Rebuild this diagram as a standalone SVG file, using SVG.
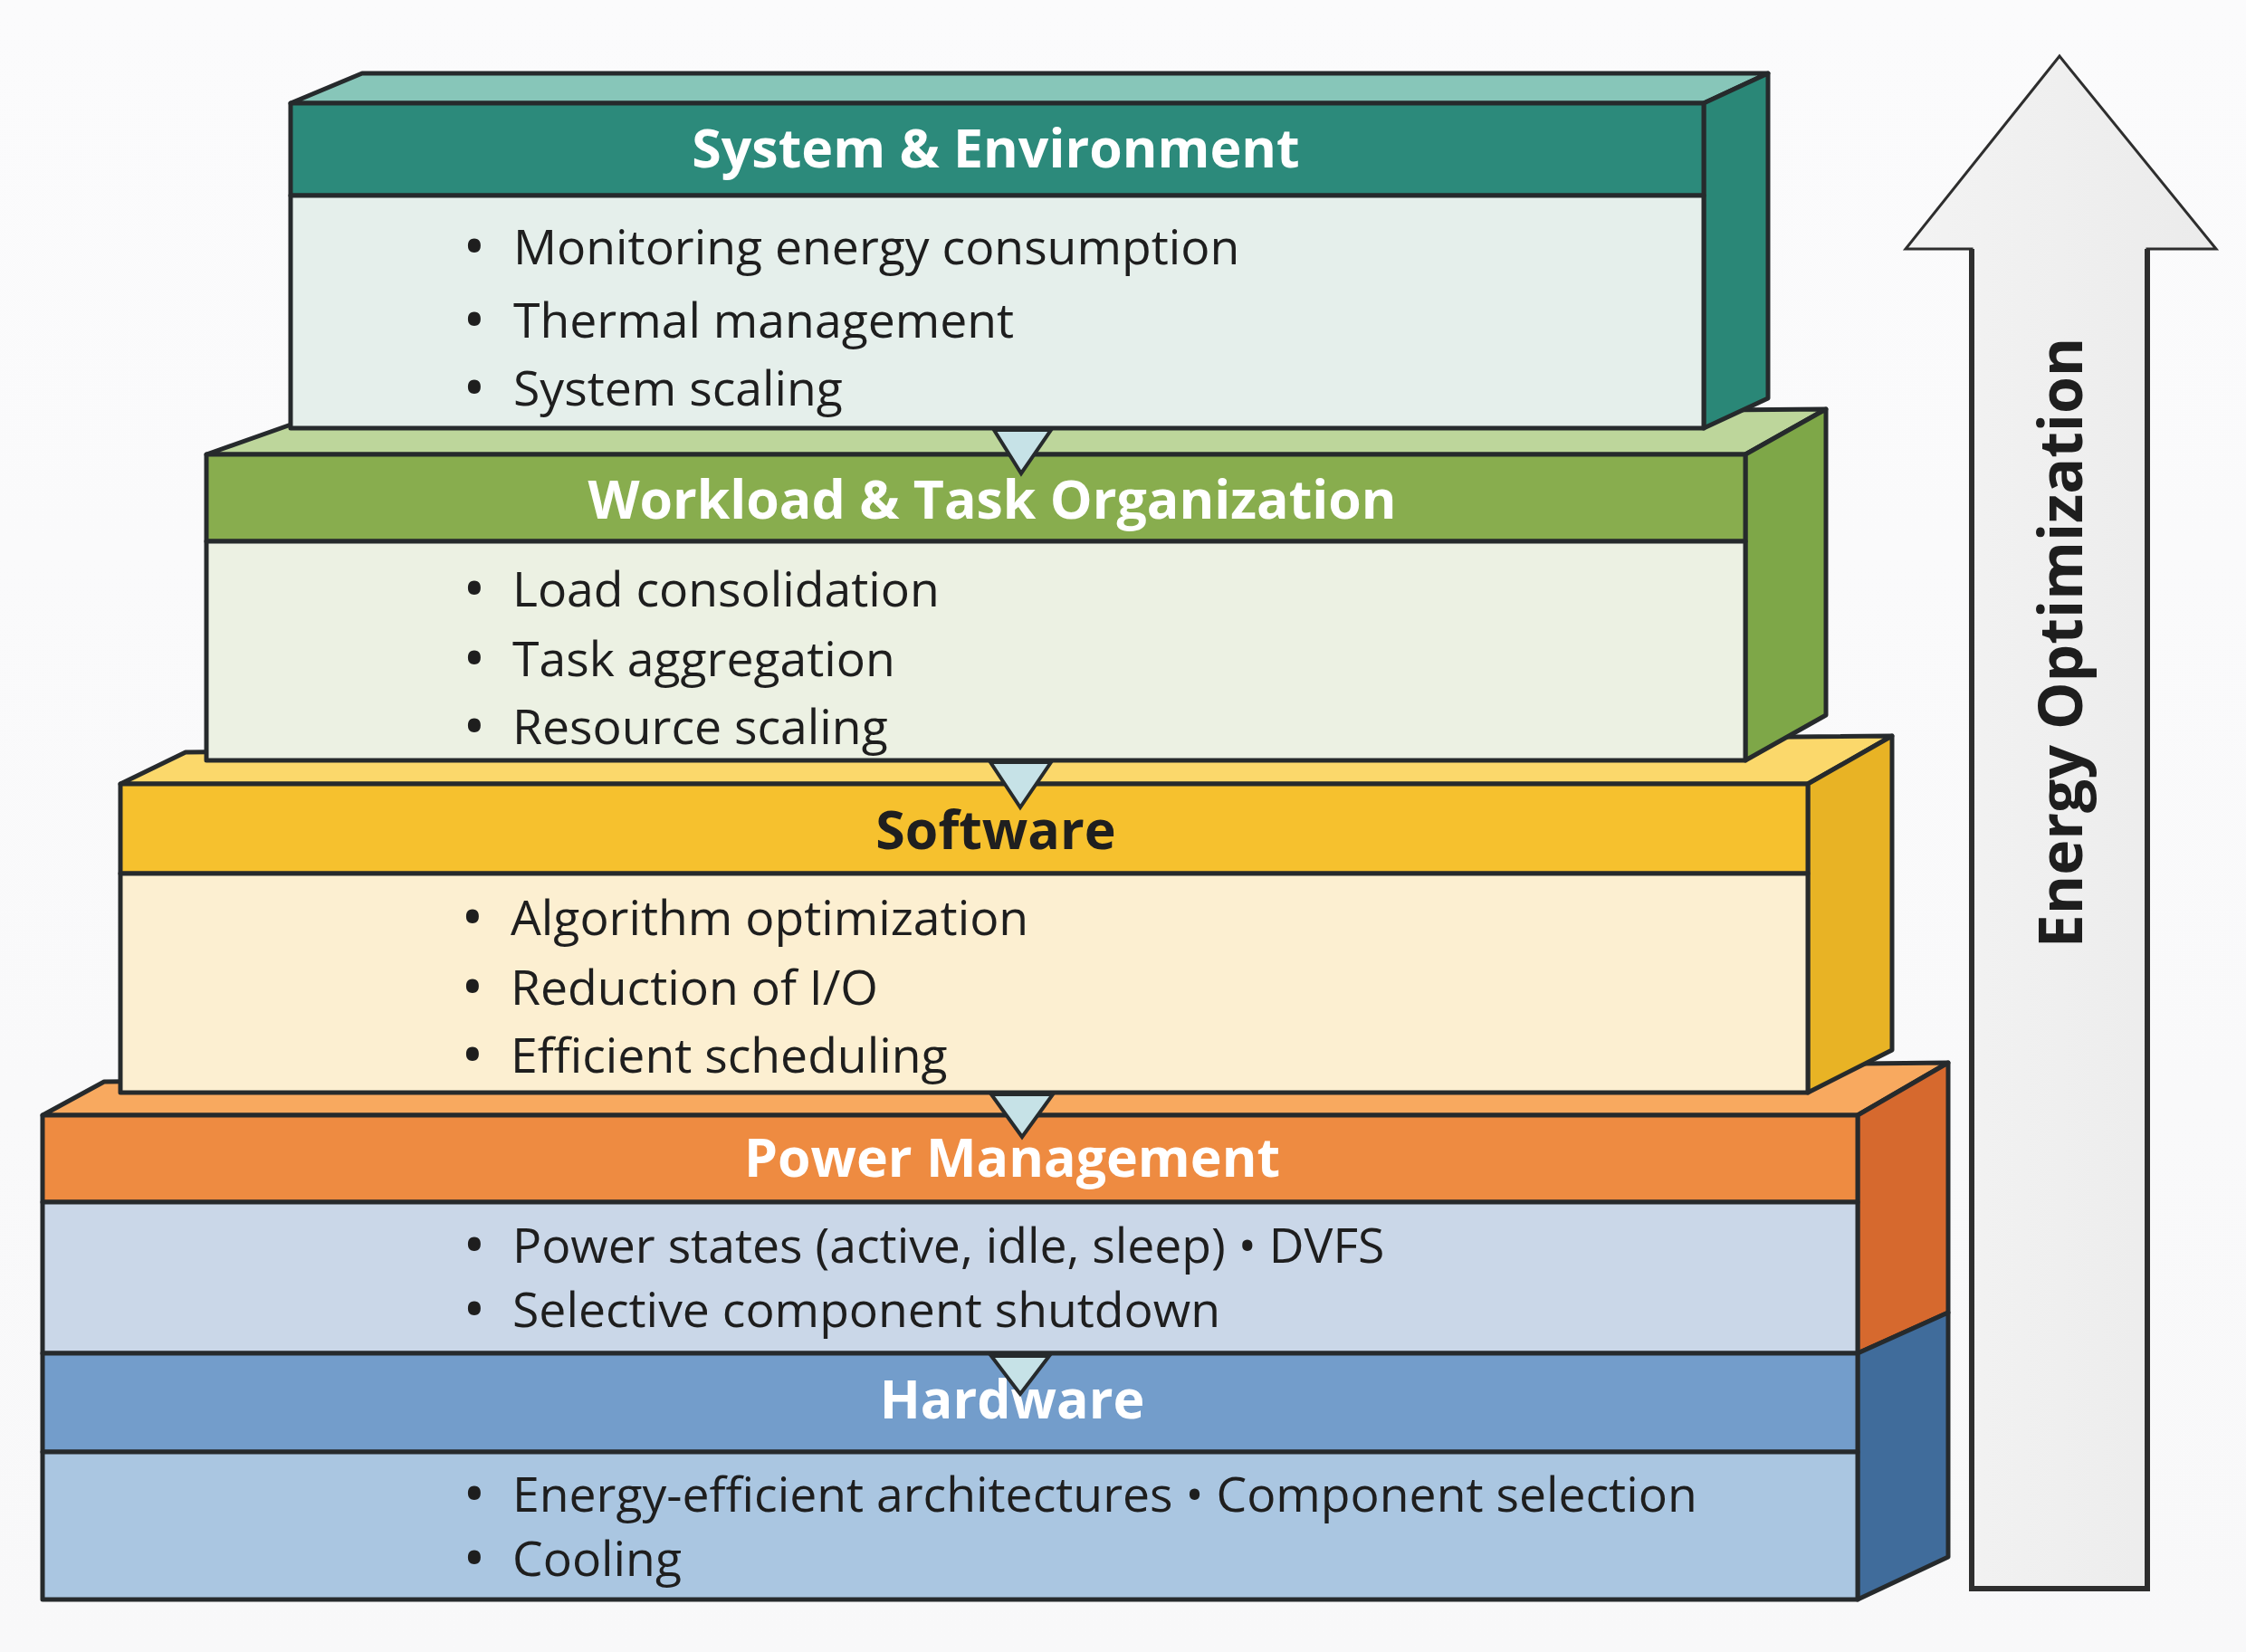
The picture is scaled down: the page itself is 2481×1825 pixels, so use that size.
<svg xmlns="http://www.w3.org/2000/svg" width="2481" height="1825" viewBox="0 0 2481 1825">
<defs>
<style>
.edge{stroke:#262a2c;stroke-width:5;stroke-linejoin:round}
.title{font-family:"Open Sans","Noto Sans","Liberation Sans",sans-serif;font-weight:700;font-size:59px;text-anchor:middle}
.item{font-family:"Open Sans","Noto Sans","Liberation Sans",sans-serif;font-size:53.5px;fill:#1e1e1e}
.dot{font-family:"Open Sans","Noto Sans","Liberation Sans",sans-serif;font-size:50px;font-weight:700;fill:#1e1e1e;text-anchor:middle}
.tri{fill:#c6e2e7;stroke:#262a2c;stroke-width:4;stroke-linejoin:miter}
.vlabel{font-family:"Open Sans","Noto Sans","Liberation Sans",sans-serif;font-weight:700;font-size:66px;text-anchor:middle;fill:#1e1e1e}
</style>
<linearGradient id="bg" x1="0" y1="0" x2="0" y2="1"><stop offset="0" stop-color="#fbfbfc"/><stop offset="1" stop-color="#f8f8f9"/></linearGradient>
<linearGradient id="arrowFill" x1="0" y1="0" x2="1" y2="0"><stop offset="0" stop-color="#f3f3f3"/><stop offset="1" stop-color="#ebebeb"/></linearGradient>
</defs>
<rect x="0" y="0" width="2481" height="1825" fill="url(#bg)"/>

<!-- Layer 4: Power Management + Hardware -->
<g id="layer-power-hardware">
<polygon class="edge" fill="#f8a95f" points="47,1232 115,1195 2152,1174 2052,1232"/>
<polygon class="edge" fill="#d6692e" points="2052,1232 2152,1174 2152,1450 2052,1495"/>
<polygon class="edge" fill="#406c9b" points="2052,1495 2152,1450 2152,1720 2052,1767"/>
<rect class="edge" x="47" y="1232" width="2005" height="96" fill="#ee8b41"/>
<rect class="edge" x="47" y="1328" width="2005" height="167" fill="#cad7e8"/>
<rect class="edge" x="47" y="1495" width="2005" height="109" fill="#739dcb"/>
<rect class="edge" x="47" y="1604" width="2005" height="163" fill="#aac6e1"/>
<text class="title" x="1118" y="1300" fill="#ffffff">Power Management</text>
<text class="dot" x="524" y="1393">•</text><text class="item" x="566" y="1395">Power states (active, idle, sleep) • DVFS</text>
<text class="dot" x="524" y="1464">•</text><text class="item" x="566" y="1466">Selective component shutdown</text>
<text class="title" x="1118" y="1567" fill="#ffffff">Hardware</text>
<text class="dot" x="524" y="1668">•</text><text class="item" x="566" y="1670">Energy-efficient architectures • Component selection</text>
<text class="dot" x="524" y="1739">•</text><text class="item" x="566" y="1741">Cooling</text>
</g>

<!-- Layer 3: Software -->
<g id="layer-software">
<polygon class="edge" fill="#fbd86b" points="133,866 205,831 2090,813 1997,866"/>
<polygon class="edge" fill="#e8b325" points="1997,866 2090,813 2090,1160 1997,1207"/>
<rect class="edge" x="133" y="866" width="1864" height="99" fill="#f6c12e"/>
<rect class="edge" x="133" y="965" width="1864" height="242" fill="#fcefd1"/>
<text class="title" x="1100" y="938" fill="#1f1f1f">Software</text>
<text class="dot" x="522" y="1031">•</text><text class="item" x="564" y="1033">Algorithm optimization</text>
<text class="dot" x="522" y="1108">•</text><text class="item" x="564" y="1110">Reduction of I/O</text>
<text class="dot" x="522" y="1183">•</text><text class="item" x="564" y="1185">Efficient scheduling</text>
</g>

<!-- Layer 2: Workload & Task Organization -->
<g id="layer-workload">
<polygon class="edge" fill="#bdd69b" points="228,502 330,466 2017,452 1928,502"/>
<polygon class="edge" fill="#7ea748" points="1928,502 2017,452 2017,790 1928,840"/>
<rect class="edge" x="228" y="502" width="1700" height="96" fill="#88ad4e"/>
<rect class="edge" x="228" y="598" width="1700" height="242" fill="#ecf1e3"/>
<text class="title" x="1096" y="573" fill="#ffffff">Workload &amp; Task Organization</text>
<text class="dot" x="524" y="668">•</text><text class="item" x="566" y="670">Load consolidation</text>
<text class="dot" x="524" y="745">•</text><text class="item" x="566" y="747">Task aggregation</text>
<text class="dot" x="524" y="820">•</text><text class="item" x="566" y="822">Resource scaling</text>
</g>

<!-- Layer 1: System & Environment -->
<g id="layer-system">
<polygon class="edge" fill="#87c6b9" points="321,114 400,81 1953,81 1882,114"/>
<polygon class="edge" fill="#2a8777" points="1882,114 1953,81 1953,440 1882,473"/>
<rect class="edge" x="321" y="114" width="1561" height="102" fill="#2c8a7b"/>
<rect class="edge" x="321" y="216" width="1561" height="257" fill="#e5efeb"/>
<text class="title" x="1100" y="185" fill="#ffffff">System &amp; Environment</text>
<text class="dot" x="524" y="290">•</text><text class="item" x="567" y="292">Monitoring energy consumption</text>
<text class="dot" x="524" y="371">•</text><text class="item" x="567" y="373">Thermal management</text>
<text class="dot" x="524" y="446">•</text><text class="item" x="567" y="448">System scaling</text>
</g>

<!-- Connectors between layers -->
<g id="connectors">
<polygon class="tri" points="1098,475 1161,475 1128,523"/>
<polygon class="tri" points="1094,842 1161,842 1127,892"/>
<polygon class="tri" points="1095,1209 1163,1209 1129,1256"/>
<polygon class="tri" points="1095,1498 1159,1498 1127,1540"/>
</g>

<!-- Energy Optimization arrow -->
<g id="energy-arrow">
<polygon points="2275,62 2448,275 2372,275 2372,1755 2178,1755 2178,275 2105,275" fill="url(#arrowFill)" stroke="#2e2e2e" stroke-width="3" stroke-linejoin="miter"/>
<polyline points="2178,275 2178,1755 2372,1755 2372,275" fill="none" stroke="#2e2e2e" stroke-width="6"/>
<text class="vlabel" transform="translate(2300,710) rotate(-90)" x="0" y="0">Energy Optimization</text>
</g>
</svg>
